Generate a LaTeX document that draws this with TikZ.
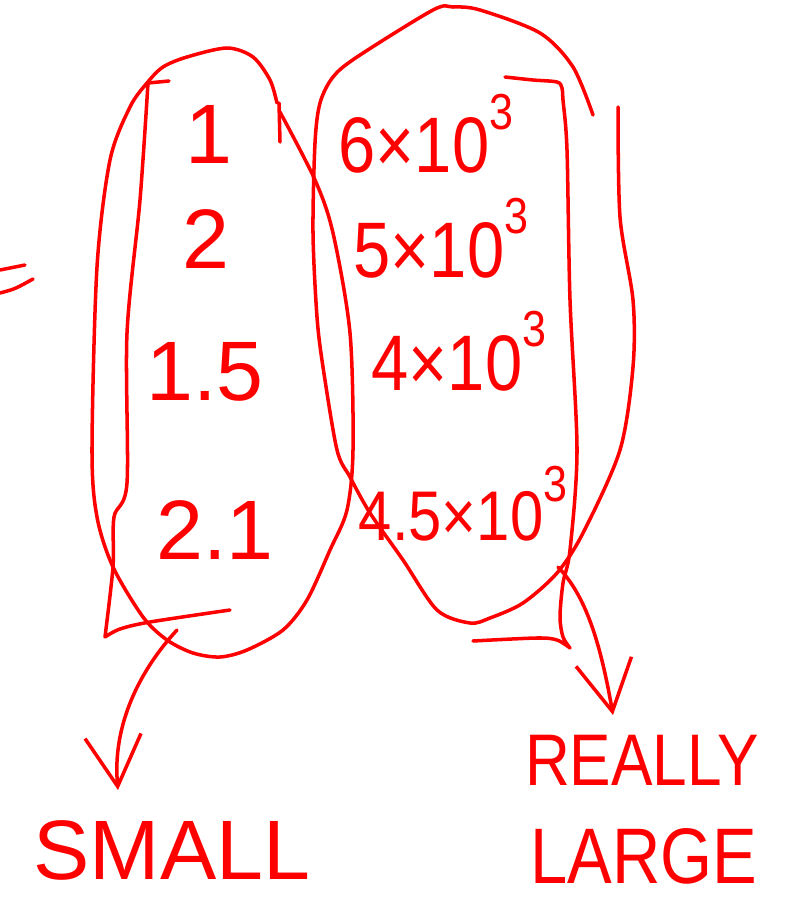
\documentclass[tikz,border=0pt]{standalone}
\usepackage{fontspec}
\setmainfont{Liberation Sans}
\newfontfamily\narrowfont{Liberation Sans}[FakeStretch=0.85]
\usetikzlibrary{arrows.meta}
\newcommand{\sups}[1]{\raisebox{0.55em}{\fontsize{36}{36}\selectfont #1}}

\begin{document}
\begin{tikzpicture}[
		x=0.025cm, y=-0.025cm,
		ink/.style={draw=red, line width=2.5pt, line cap=round, line join=round},
		arr/.style={ink, -{Straight Barb[length=36pt, width=40pt]}},
		val/.style={text=red, font=\fontsize{60}{64}\selectfont},
		expo/.style={text=red, anchor=base, font=\narrowfont\fontsize{56}{60}\selectfont},
		lbl/.style={text=red, font=\fontsize{60}{64}\selectfont}
	]
		\useasboundingbox (0,0) rectangle (799,899);

		\draw[ink] (0,270) -- (25,265);
		\draw[ink] (0,293) .. controls (15,289) .. (33,279);

		\draw[ink] plot[smooth] coordinates {(277,103) (270,80) (253,57) (227,48) (187,57) (163,67) (147,83) (130,107) (110,160) (97,267) (92,450) (97,517) (113,567) (143,617) (167,640) (193,653) (220,657) (247,650) (283,630) (307,600) (330,550) (347,510) (353,450) (350,333) (333,233) (315,180) (280,112)};
		\draw[ink] (279,103) -- (280,142);
		\draw[ink] (169,81) -- (148,83) -- plot[smooth] coordinates {(148,83) (140,200) (127,333) (127,483) (114,517) (113,567) (105,637)} -- plot[smooth] coordinates {(105,637) (120,629) (150,622) (230,610)};

		\draw[ink] plot[smooth] coordinates {(618,107) (620,217) (633,300) (633,367) (620,450) (583,533) (557,573) (523,603) (490,618) (470,623) (437,610) (403,560) (370,513) (350,477) (337,450) (323,367) (317,317) (313,233) (315,143) (320,103) (333,77) (357,57) (433,10) (453,7) (480,10) (540,33) (573,67) (593,115)};
		\draw[ink] plot[smooth] coordinates {(505,77) (533,80) (557,82) (562,88) (563,100) (567,150) (570,300) (577,450) (570,550) (563,583) (560,617) (563,637) (570,648)} -- plot[smooth] coordinates {(570,648) (557,640) (537,638) (473,641)};

		\node[val] (n1) at (209,134) {1};
		\node[val] (n2) at (206,239) {2};
		\node[val] (n15) at (205,372) {1.5};
		\node[val] (n21) at (215,530) {2.1};

		\node[expo] (e6) at (426,173) {6×10\sups{3}};
		\node[expo] (e5) at (441,277) {5×10\sups{3}};
		\node[expo] (e4) at (459,390) {4×10\sups{3}};
		\node[expo, font=\narrowfont\fontsize{50}{54}\selectfont] (e45) at (463,540) {4.5×10\sups{3}};

		\node[lbl] (small) at (172,850) {SMALL};
		\node[lbl, font=\narrowfont\fontsize{52}{56}\selectfont] (really) at (642,760) {REALLY};
		\node[lbl, font=\narrowfont\fontsize{56}{60}\selectfont] (large) at (644,856) {LARGE};

		\coordinate (lfoot) at (177,630);
		\coordinate (ltip) at (118,790);
		\coordinate (rfoot) at (558,567);
		\coordinate (rtip) at (613,715);
		\draw[arr] (lfoot) .. controls (140,670) and (112,725) .. (ltip);
		\draw[arr] (rfoot) .. controls (585,595) and (600,640) .. (rtip);
	\end{tikzpicture}
\end{document}
